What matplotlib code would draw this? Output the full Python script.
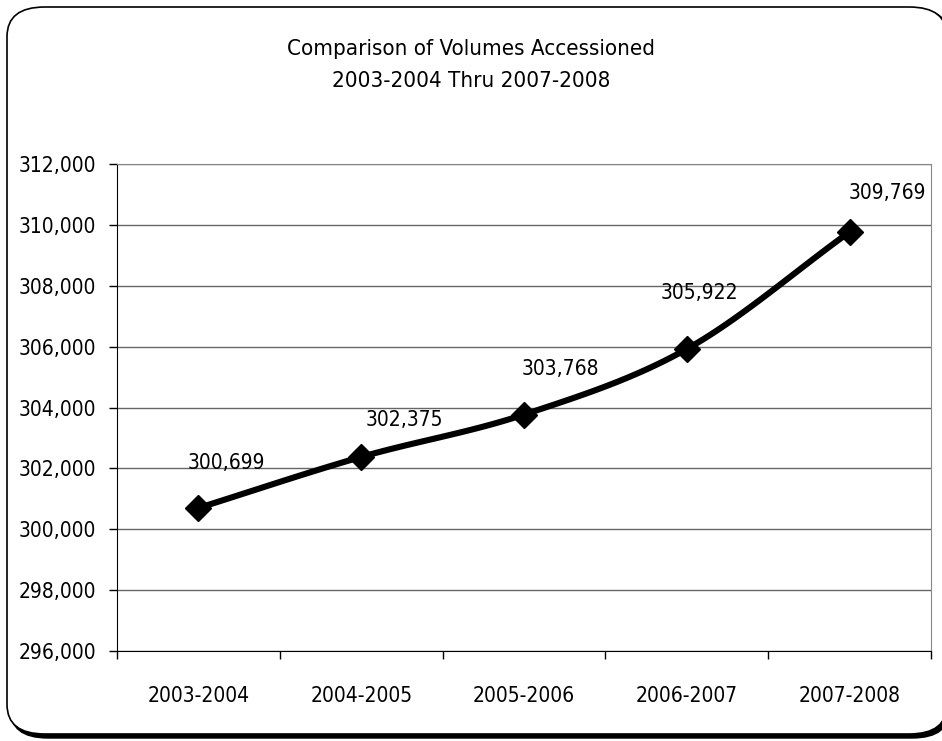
import matplotlib.pyplot as plt
import numpy as np
from matplotlib.patches import FancyBboxPatch
from matplotlib.ticker import FuncFormatter

plt.rcParams['font.family'] = ['Liberation Sans Narrow', 'DejaVu Sans']
plt.rcParams['font.stretch'] = 'condensed'

years = ['2003-2004', '2004-2005', '2005-2006', '2006-2007', '2007-2008']
volumes = [300699, 302375, 303768, 305922, 309769]
label_offsets = [(28, 45), (43, 37), (36, 46), (13, 56), (38, 39)]


def smooth(x, y, n=30):
    # catmull-rom through the points, like Excel's smoothed line
    x = np.asarray(x, float)
    y = np.asarray(y, float)
    px = np.concatenate([[2 * x[0] - x[1]], x, [2 * x[-1] - x[-2]]])
    py = np.concatenate([[2 * y[0] - y[1]], y, [2 * y[-1] - y[-2]]])
    xs, ys = [], []
    for i in range(1, len(px) - 2):
        t = np.linspace(0, 1, n)
        for p, out in ((px, xs), (py, ys)):
            p0, p1, p2, p3 = p[i - 1], p[i], p[i + 1], p[i + 2]
            out.extend(0.5 * (2 * p1 + (-p0 + p2) * t
                              + (2 * p0 - 5 * p1 + 4 * p2 - p3) * t ** 2
                              + (-p0 + 3 * p1 - 3 * p2 + p3) * t ** 3))
    return xs, ys


fig = plt.figure(figsize=(9.42, 7.41), dpi=100)

# rounded frame with shadow
shadow = FancyBboxPatch((10 / 942, 3 / 741), 940 / 942, 729 / 741,
                        boxstyle='round,pad=0,rounding_size=0.04',
                        transform=fig.transFigure, facecolor='black',
                        edgecolor='black', zorder=0)
frame = FancyBboxPatch((7 / 942, 7 / 741), 940 / 942, 727 / 741,
                       boxstyle='round,pad=0,rounding_size=0.04',
                       transform=fig.transFigure, facecolor='white',
                       edgecolor='black', linewidth=1.2, zorder=0.5)
fig.patches.extend([shadow, frame])

ax = fig.add_axes([117 / 942, 1 - 651 / 741, 814 / 942, 487 / 741])
ax.set_zorder(2)
ax.set_facecolor('none')

x = np.arange(len(years))
sx, sy = smooth(x, volumes)
ax.plot(sx, sy, color='black', linewidth=4.4, solid_capstyle='round', zorder=3)
ax.plot(x, volumes, linestyle='none', marker='D', markersize=13,
        color='black', zorder=4)

for xi, v, off in zip(x, volumes, label_offsets):
    ax.annotate(f'{v:,}', (xi, v), xytext=off, textcoords='offset pixels',
                ha='center', va='center', fontsize=15, zorder=5)

ax.set_ylim(296000, 312000)
ax.set_yticks(np.arange(296000, 312001, 2000))
ax.yaxis.set_major_formatter(FuncFormatter(lambda v, p: f'{int(v):,}'))
ax.set_xlim(-0.5, len(years) - 0.5)
ax.set_xticks(np.arange(-0.5, len(years), 1.0))
ax.set_xticklabels([])
ax.set_xticks(x, minor=True)
ax.set_xticklabels(years, minor=True)

ax.grid(axis='y', color='#666666', linewidth=1.0)
ax.set_axisbelow(True)
ax.tick_params(axis='y', which='major', direction='out', length=6, width=1,
               labelsize=15, pad=9)
ax.tick_params(axis='x', which='major', direction='out', length=6, width=1)
ax.tick_params(axis='x', which='minor', length=0, labelsize=15, pad=25)

for side in ('top', 'right'):
    ax.spines[side].set_color('#888888')
for side in ('left', 'bottom'):
    ax.spines[side].set_color('black')

fig.text(0.5, 1 - 49 / 741, 'Comparison of Volumes Accessioned',
         ha='center', va='center', fontsize=16)
fig.text(0.5, 1 - 81 / 741, '2003-2004 Thru 2007-2008',
         ha='center', va='center', fontsize=16)

fig.savefig('out.png', dpi=100)
